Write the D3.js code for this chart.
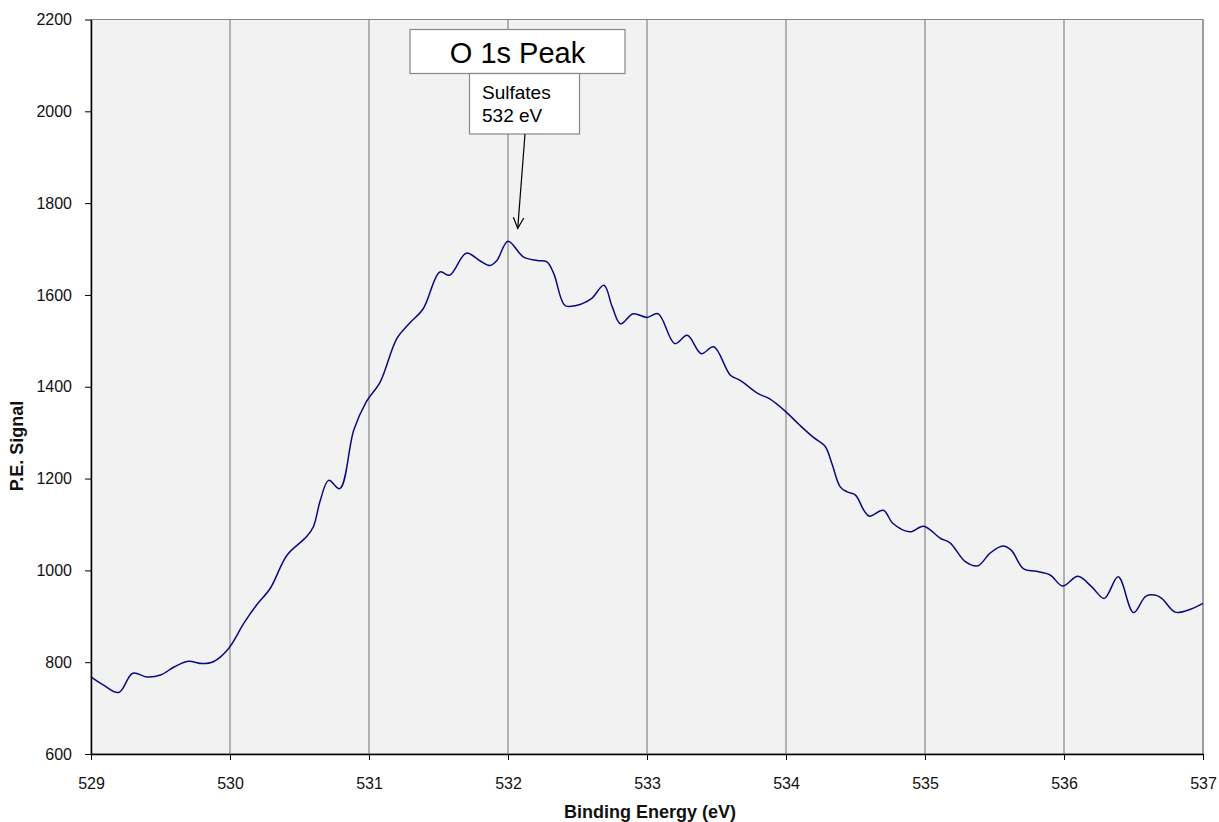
<!DOCTYPE html>
<html><head><meta charset="utf-8">
<script src="https://cdn.jsdelivr.net/npm/d3@7"></script>
<style>
body{margin:0;background:#fff;}
svg{display:block;font-family:Arial,"Liberation Sans",sans-serif;}
</style></head>
<body><svg id="c" width="1219" height="822"></svg>
<script>
const energy = [529.0,529.09,529.2,529.3,529.4,529.5,529.6,529.7,529.8,529.88,529.99,530.1,530.19,530.29,530.41,530.55,530.6,530.65,530.71,530.79,530.89,530.98,531.08,531.2,531.29,531.39,531.51,531.58,531.7,531.8,531.87,531.92,532.0,532.11,532.21,532.28,532.33,532.41,532.49,532.6,532.69,532.75,532.81,532.9,533.0,533.08,533.2,533.29,533.39,533.48,533.6,533.67,533.8,533.88,533.99,534.1,534.2,534.28,534.33,534.39,534.44,534.5,534.56,534.6,534.7,534.77,534.89,534.99,535.11,535.18,535.29,535.38,535.47,535.56,535.62,535.71,535.8,535.9,535.99,536.1,536.2,536.29,536.39,536.5,536.59,536.67,536.71,536.8,536.89,537.0];
const signal = [768,750,734,776,768,772,790,802,797,801,830,885,924,961,1033,1073,1095,1153,1196,1178,1305,1367,1410,1505,1538,1570,1650,1643,1691,1674,1664,1675,1717,1683,1675,1672,1646,1577,1577,1592,1621,1574,1537,1559,1551,1559,1494,1512,1472,1487,1425,1414,1385,1374,1348,1316,1289,1271,1233,1182,1171,1164,1131,1118,1131,1102,1084,1096,1070,1060,1019,1010,1038,1053,1044,1003,998,990,966,987,964,939,986,908,944,945,937,909,913,928];
const xTicks = [529,530,531,532,533,534,535,536,537];
const yTicks = [600,800,1000,1200,1400,1600,1800,2000,2200];
const titleText = "O 1s Peak";
const noteLines = ["Sulfates","532 eV"];
const noteTarget = [532.07, 1745];

const L=91,R=1203,T=19.5,B=754;
const svg=d3.select("#c");
const x=d3.scaleLinear().domain([529,537]).range([L,R]);
const y=d3.scaleLinear().domain([600,2200]).range([B,T]);

svg.append("rect").attr("x",L).attr("y",T).attr("width",R-L).attr("height",B-T)
  .attr("fill","#f2f2f2").attr("stroke","#888").attr("stroke-width",1);

svg.append("g").selectAll("line").data(xTicks.slice(1)).join("line")
  .attr("x1",d=>x(d)).attr("x2",d=>x(d)).attr("y1",T).attr("y2",B)
  .attr("stroke","#858585").attr("stroke-width",1.2);

const data=energy.map((e,i)=>[e,signal[i]]);
svg.append("path").datum(data)
  .attr("d",d3.line().x(d=>x(d[0])).y(d=>y(d[1])).curve(d3.curveCatmullRom.alpha(0.5)))
  .attr("fill","none").attr("stroke","#0a0a80").attr("stroke-width",1.5);

const xa=svg.append("g").attr("transform",`translate(0,${B})`)
  .call(d3.axisBottom(x).tickValues(xTicks).tickFormat(d3.format("d")).tickSize(6).tickSizeOuter(0));
xa.select(".domain").attr("stroke","#000").attr("stroke-width",1.5);
xa.selectAll(".tick line").attr("stroke","#000");
xa.selectAll("text").attr("font-size",16).attr("fill","#111").attr("dy","1.65em");

const ya=svg.append("g").attr("transform",`translate(${L},0)`)
  .call(d3.axisLeft(y).tickValues(yTicks).tickFormat(d3.format("d")).tickSize(6).tickSizeOuter(0));
ya.select(".domain").attr("stroke","#000").attr("stroke-width",1.5);
ya.selectAll(".tick line").attr("stroke","#000");
ya.selectAll("text").attr("font-size",16).attr("fill","#111").attr("x",-19);

svg.append("text").attr("x",650).attr("y",818).attr("text-anchor","middle")
  .attr("font-size",18).attr("font-weight","bold").attr("fill","#111").text("Binding Energy (eV)");
svg.append("text").attr("transform","translate(23,446) rotate(-90)").attr("text-anchor","middle")
  .attr("font-size",18).attr("font-weight","bold").attr("fill","#111").text("P.E. Signal");

// title box
svg.append("rect").attr("x",410).attr("y",29.5).attr("width",215).attr("height",44)
  .attr("fill","#fff").attr("stroke","#888").attr("stroke-width",1.2);
svg.append("text").attr("x",517.5).attr("y",62.5).attr("text-anchor","middle")
  .attr("font-size",29).attr("fill","#000").text(titleText);

// note box
svg.append("rect").attr("x",469.5).attr("y",73.5).attr("width",110).attr("height",60.5)
  .attr("fill","#fff").attr("stroke","#888").attr("stroke-width",1.2);
svg.append("text").attr("font-size",19).attr("fill","#000").selectAll("tspan").data(noteLines).join("tspan")
  .attr("x",482).attr("y",(d,i)=>98.5+i*23.3).text(d=>d);

// arrow
const ax0=525, ay0=134, ax1=x(noteTarget[0]), ay1=y(noteTarget[1]);
svg.append("line").attr("x1",ax0).attr("y1",ay0).attr("x2",ax1).attr("y2",ay1).attr("stroke","#000").attr("stroke-width",1.2);
const ang=Math.atan2(ay1-ay0,ax1-ax0), hl=12, spread=0.45;
svg.append("path").attr("d",`M${ax1-hl*Math.cos(ang-spread)},${ay1-hl*Math.sin(ang-spread)}L${ax1},${ay1}L${ax1-hl*Math.cos(ang+spread)},${ay1-hl*Math.sin(ang+spread)}`)
  .attr("fill","none").attr("stroke","#000").attr("stroke-width",1.2);
</script></body></html>
